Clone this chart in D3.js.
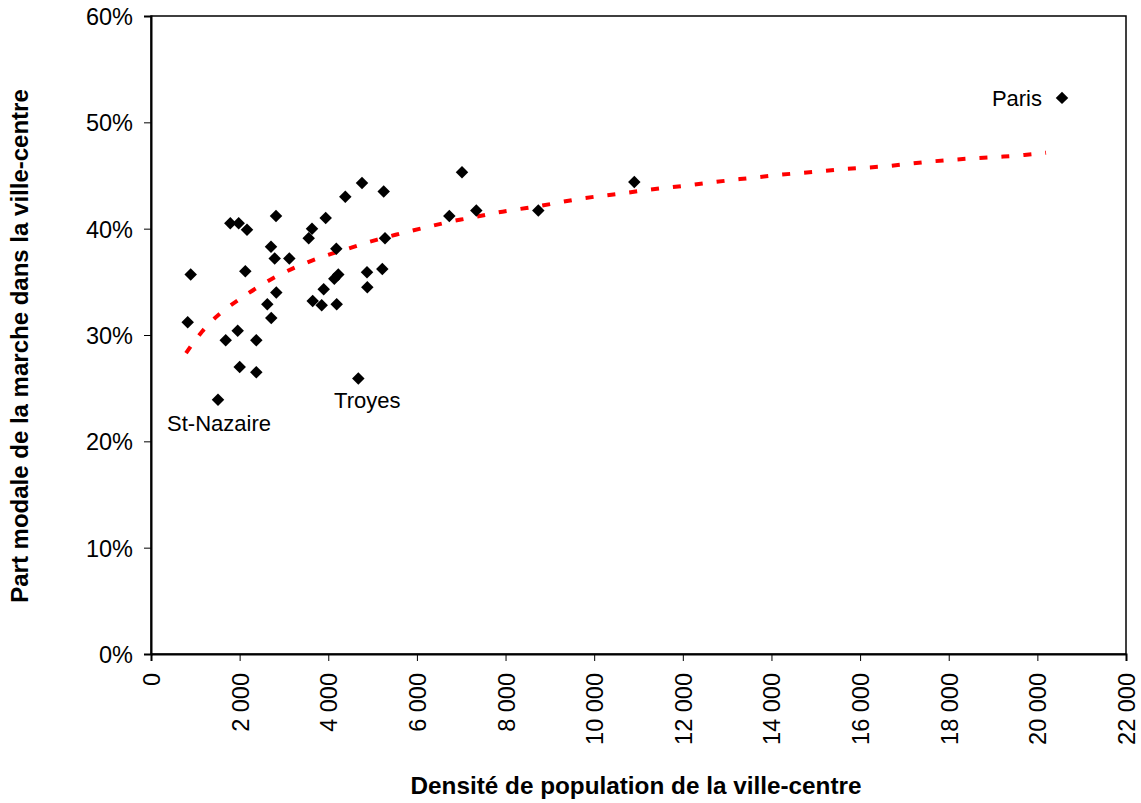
<!DOCTYPE html>
<html>
<head>
<meta charset="utf-8">
<script src="https://cdn.jsdelivr.net/npm/d3@7/dist/d3.min.js"></script>
<style>
  html, body { margin: 0; padding: 0; background: #fff; }
  svg { display: block; font-family: "Liberation Sans", Arial, Helvetica, sans-serif; }
</style>
</head>
<body>
<svg id="chart" width="1141" height="803"></svg>
<script>
// ---- Data ----
const density = [896, 828, 1512, 1789, 1979, 2166, 2128, 1956, 1686, 2376, 2001, 2376,
  2821, 2708, 2791, 3121, 2827, 2624, 2714, 3633, 3558, 3942, 4181, 4226, 4136, 3897,
  3649, 3852, 4190, 4384, 4761, 5251, 5280, 4874, 5219, 4881, 4678, 7017, 6731, 7340,
  8739, 10905, 20556];
const walkShare = [35.7, 31.2, 23.9, 40.5, 40.5, 39.9, 36.0, 30.4, 29.5, 29.5, 27.0, 26.5,
  41.2, 38.3, 37.2, 37.2, 34.0, 32.9, 31.6, 40.0, 39.1, 41.0, 38.1, 35.7, 35.3, 34.3,
  33.2, 32.8, 32.9, 43.0, 44.3, 43.5, 39.1, 35.9, 36.2, 34.5, 25.9, 45.3, 41.2, 41.7,
  41.7, 44.4, 52.3];
const pointLabels = ["", "", "St-Nazaire", "", "", "", "", "", "", "", "", "",
  "", "", "", "", "", "", "", "", "", "", "", "", "", "",
  "", "", "", "", "", "", "", "", "", "", "Troyes", "", "", "",
  "", "", "Paris"];

const trendDensity = [790, 1144, 1557, 1970, 2399, 2896, 3385, 3870, 4366, 4867, 5355,
  5867, 6334, 6826, 7340, 7818, 8315, 8823, 9303, 9800, 10296, 10786, 11282, 11772,
  12268, 12755, 13245, 13735, 14238, 14734, 15229, 15711, 16201, 16697, 17187, 17674,
  18164, 18654, 19157, 19647, 20195];
const trendShare = [28.3, 30.4, 32.1, 33.3, 34.5, 35.7, 36.6, 37.4, 38.0, 38.7, 39.25,
  39.8, 40.25, 40.75, 41.1, 41.55, 41.85, 42.15, 42.55, 42.9, 43.15, 43.4, 43.7, 43.9,
  44.15, 44.4, 44.65, 44.85, 45.1, 45.25, 45.45, 45.65, 45.75, 45.9, 46.15, 46.35,
  46.5, 46.65, 46.75, 46.9, 47.15];

const xTicks = [0, 2000, 4000, 6000, 8000, 10000, 12000, 14000, 16000, 18000, 20000, 22000];
const yTicks = [0, 10, 20, 30, 40, 50, 60];
const xTitle = "Densité de population de la ville-centre";
const yTitle = "Part modale de la marche dans la ville-centre";

// ---- Layout ----
const W = 1141, H = 803;
const margin = { left: 151, right: 15, top: 16, bottom: 149 };
const iw = W - margin.left - margin.right;
const ih = H - margin.top - margin.bottom;

const svg = d3.select("#chart");
const g = svg.append("g").attr("transform", `translate(${margin.left},${margin.top})`);

const x = d3.scaleLinear().domain([0, 22000]).range([0, iw]);
const y = d3.scaleLinear().domain([0, 60]).range([ih, 0]);

const fr = d3.formatLocale({ decimal: ",", thousands: "\u00a0", grouping: [3], currency: ["", " €"] });
const fmtX = fr.format(",");

// Frame (plot area border)
g.append("rect")
  .attr("x", 0).attr("y", 0).attr("width", iw).attr("height", ih)
  .attr("fill", "none").attr("stroke", "#000").attr("stroke-width", 1.5);

// X axis
const xAxis = g.append("g").attr("transform", `translate(0,${ih})`)
  .call(d3.axisBottom(x).tickValues(xTicks).tickFormat(fmtX).tickSizeOuter(0).tickSize(7));
xAxis.select(".domain").attr("stroke", "#000").attr("stroke-width", 2);
xAxis.selectAll(".tick line").attr("stroke", "#000");
xAxis.selectAll(".tick text")
  .attr("font-size", 23.5).attr("fill", "#000")
  .attr("transform", "rotate(-90)")
  .attr("text-anchor", "end")
  .attr("x", -19).attr("y", 0).attr("dy", "0.36em");

// Y axis
const yAxis = g.append("g")
  .call(d3.axisLeft(y).tickValues(yTicks).tickFormat(d => d + "%").tickSizeOuter(0).tickSize(7));
yAxis.select(".domain").attr("stroke", "#000").attr("stroke-width", 2);
yAxis.selectAll(".tick line").attr("stroke", "#000");
yAxis.selectAll(".tick text")
  .attr("font-size", 23.5).attr("fill", "#000").attr("x", -18).attr("dy", "0.36em");

// Trend line
const trend = trendDensity.map((d, i) => [d, trendShare[i]]);
g.append("path")
  .datum(trend)
  .attr("fill", "none")
  .attr("stroke", "#ff0000")
  .attr("stroke-width", 4)
  .attr("stroke-dasharray", "8,14")
  .attr("d", d3.line().x(d => x(d[0])).y(d => y(d[1])).curve(d3.curveBasis));

// Points
const pts = density.map((d, i) => ({ d, s: walkShare[i], label: pointLabels[i] }));
g.selectAll(".pt").data(pts).enter().append("path")
  .attr("class", "pt")
  .attr("transform", p => `translate(${x(p.d)},${y(p.s)}) rotate(45)`)
  .attr("d", d3.symbol().type(d3.symbolSquare).size(78))
  .attr("fill", "#000");

// Point labels
const labelOffset = {
  "Paris": { dx: -20, dy: 0, anchor: "end" },
  "St-Nazaire": { dx: 1, dy: 23, anchor: "middle" },
  "Troyes": { dx: 9, dy: 21, anchor: "middle" }
};
g.selectAll(".lbl").data(pts.filter(p => p.label)).enter().append("text")
  .attr("class", "lbl")
  .attr("x", p => x(p.d) + labelOffset[p.label].dx)
  .attr("y", p => y(p.s) + labelOffset[p.label].dy)
  .attr("dy", "0.36em")
  .attr("text-anchor", p => labelOffset[p.label].anchor)
  .attr("font-size", 22)
  .attr("fill", "#000")
  .text(p => p.label);

// Axis titles
svg.append("text")
  .attr("x", 636).attr("y", 785)
  .attr("dy", "0.36em")
  .attr("text-anchor", "middle")
  .attr("font-size", 24.3).attr("font-weight", "bold")
  .text(xTitle);

svg.append("text")
  .attr("transform", `translate(19,${(92 + 600) / 2}) rotate(-90)`)
  .attr("dy", "0.36em")
  .attr("text-anchor", "middle")
  .attr("font-size", 24).attr("font-weight", "bold")
  .text(yTitle);
</script>
</body>
</html>
